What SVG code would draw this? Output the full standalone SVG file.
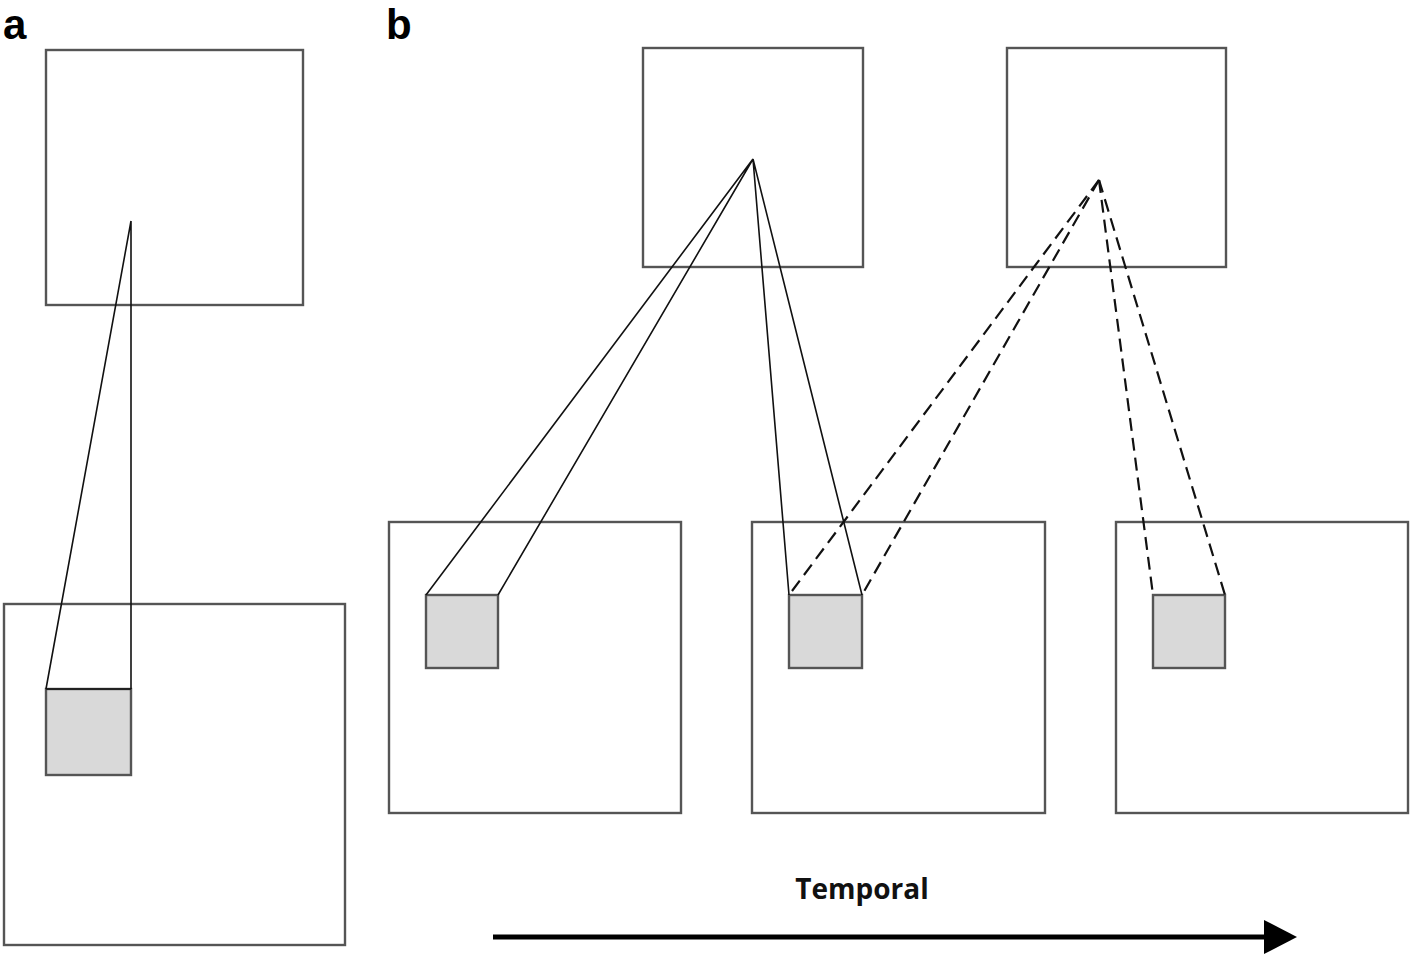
<svg xmlns="http://www.w3.org/2000/svg" width="1418" height="956" viewBox="0 0 1418 956">
<style>
.box{fill:#fff;stroke:#555;stroke-width:2.4}
.cell{fill:#d9d9d9;stroke:#555;stroke-width:2.4}
.ln{stroke:#111;stroke-width:1.6;fill:none}
.dash{stroke:#111;stroke-width:2.2;fill:none;stroke-dasharray:13 7}
.lbl{font-family:"Liberation Sans",Arial,sans-serif;font-weight:bold;font-size:42px;fill:#000}
.t{font-family:"Open Sans","Liberation Sans",sans-serif;font-weight:bold;font-size:28px;fill:#111}
</style>
<rect width="1418" height="956" fill="#fff"/>
<text class="lbl" x="3" y="38.5">a</text>
<text class="lbl" x="386" y="38.5">b</text>
<g id="a-top"><rect class="box" x="46" y="50" width="257" height="255"/></g>
<g id="a-bottom"><rect class="box" x="4" y="604" width="341" height="341"/></g>
<g id="a-cell"><rect class="cell" x="46" y="689" width="85" height="86"/></g>
<g id="b-top1"><rect class="box" x="643" y="48" width="220" height="219"/></g>
<g id="b-top2"><rect class="box" x="1007" y="48" width="219" height="219"/></g>
<g id="b-bot1"><rect class="box" x="389" y="522" width="292" height="291"/></g>
<g id="b-bot2"><rect class="box" x="752" y="522" width="293" height="291"/></g>
<g id="b-bot3"><rect class="box" x="1116" y="522" width="292" height="291"/></g>
<g id="b-cell1"><rect class="cell" x="426" y="595" width="72" height="73"/></g>
<g id="b-cell2"><rect class="cell" x="789" y="595" width="73" height="73"/></g>
<g id="b-cell3"><rect class="cell" x="1153" y="595" width="72" height="73"/></g>
<g id="connectors">
<path class="ln" d="M131,221 L46,689 M131,221 L131,689 M46,689 L131,689"/>
<path class="ln" d="M753,159 L426,595 M753,159 L498,595 M753,159 L789,595 M753,159 L862,595"/>
<path class="dash" d="M1099,180 L789,595"/>
<path class="dash" d="M1099,180 L862,595"/>
<path class="dash" d="M1099,180 L1153,595"/>
<path class="dash" d="M1099,180 L1225,595"/>
<line x1="493" y1="937" x2="1266" y2="937" stroke="#000" stroke-width="5"/>
<path d="M1264,920 L1297,937 L1264,954 z" fill="#000"/>
</g>
<text class="t" x="862" y="899" text-anchor="middle">Temporal</text>
</svg>
